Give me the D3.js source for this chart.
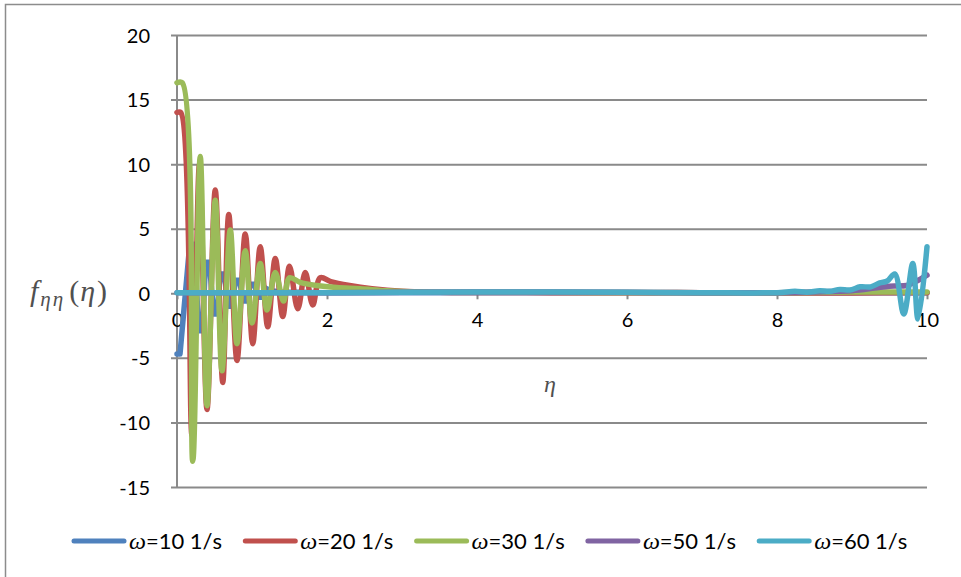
<!DOCTYPE html>
<html>
<head>
<meta charset="utf-8">
<script src="https://cdn.jsdelivr.net/npm/d3@7"></script>
<style>
  html, body { margin: 0; padding: 0; background: #ffffff; }
  svg { display: block; }
</style>
</head>
<body>
<svg id="chart" width="961" height="577"></svg>
<script>
// Axis ticks
const yTicks = [-15, -10, -5, 0, 5, 10, 15, 20];
const xTicks = [0, 2, 4, 6, 8, 10];

// Legend labels
const seriesNames = ["10 1/s", "20 1/s", "30 1/s", "50 1/s", "60 1/s"];

// ω = 10 1/s
const eta10 = [0, 0.04, 0.17, 0.23, 0.29, 0.34, 0.38, 0.43, 0.49, 0.53, 0.58, 0.63, 0.69, 0.73, 0.78, 0.83, 0.89, 0.93, 0.98, 1.03, 1.09, 1.13, 1.18, 1.25, 1.4, 2, 3, 4, 5, 6, 7, 8, 9, 10];
const f10 = [-4.7, -4.7, 3.8, 3.8, -2.9, -2.9, 2.4, 2.4, -1.6, -1.6, 1.5, 1.5, -1.0, -1.0, 1.0, 1.0, -0.6, -0.6, 0.7, 0.7, -0.3, -0.3, 0.4, 0.2, 0.1, 0.05, 0.05, 0.05, 0.05, 0.05, 0.05, 0.05, 0.05, 0.05];

// ω = 20 1/s
const eta20 = [0, 0.05, 0.2, 0.3, 0.4, 0.51, 0.61, 0.69, 0.8, 0.91, 1.01, 1.11, 1.21, 1.31, 1.41, 1.5, 1.61, 1.71, 1.81, 1.91, 2.05, 2.3, 2.6, 3.0, 3.5, 4, 5, 6, 7, 8, 9, 10];
const f20 = [14.0, 14.0, -11.0, 10.0, -9.0, 8.0, -6.9, 6.1, -5.2, 4.6, -3.9, 3.6, -2.6, 2.7, -1.8, 2.1, -1.2, 1.6, -0.9, 1.2, 0.9, 0.6, 0.35, 0.15, 0.08, 0.06, 0.05, 0.05, 0.05, 0.03, 0.03, 0.05];

// ω = 30 1/s
const eta30 = [0, 0.07, 0.21, 0.31, 0.4, 0.51, 0.6, 0.71, 0.8, 0.91, 1.0, 1.11, 1.2, 1.31, 1.42, 1.5, 1.64, 1.87, 2.13, 2.44, 2.8, 3.2, 4, 5, 6, 7, 8, 9, 9.5, 10];
const f30 = [16.3, 16.3, -13.0, 10.6, -8.7, 7.2, -6.0, 4.9, -3.9, 3.3, -2.3, 2.3, -1.3, 1.6, -0.6, 1.2, 0.85, 0.6, 0.45, 0.35, 0.2, 0.1, 0.08, 0.08, 0.06, 0.05, 0.05, 0.1, 0.1, 0.1];

// ω = 50 1/s
const eta50 = [0, 1, 2, 3, 4, 5, 6, 7, 8, 8.5, 9, 9.3, 9.5, 9.73, 9.85, 10];
const f50 = [0.05, 0.05, 0.05, 0.08, 0.1, 0.1, 0.08, 0.05, 0.05, 0.1, 0.2, 0.4, 0.55, 0.6, 0.9, 1.4];

// ω = 60 1/s
const eta60 = [0, 1, 2, 3, 4, 5, 6, 7, 8, 8.24, 8.4, 8.57, 8.7, 8.84, 8.97, 9.11, 9.25, 9.37, 9.47, 9.57, 9.69, 9.81, 9.88, 10];
const f60 = [0.05, 0.05, 0.05, 0.08, 0.1, 0.1, 0.08, 0.05, 0.05, 0.15, 0.08, 0.2, 0.15, 0.3, 0.25, 0.5, 0.5, 0.8, 0.95, 1.5, -1.6, 2.3, -2.0, 3.6];

const colors = ["#4F81BD", "#C0504D", "#9BBB59", "#8064A2", "#4BACC6"];

const series = [
  { eta: eta10, f: f10, curve: d3.curveLinear },
  { eta: eta20, f: f20, curve: d3.curveCatmullRom.alpha(0.5) },
  { eta: eta30, f: f30, curve: d3.curveCatmullRom.alpha(0.5) },
  { eta: eta50, f: f50, curve: d3.curveCatmullRom.alpha(0.5) },
  { eta: eta60, f: f60, curve: d3.curveCatmullRom.alpha(0.5) }
];

const svg = d3.select("#chart");
const labelFont = "Lato, 'Open Sans', sans-serif";
const mathFont = "'Liberation Serif', 'DejaVu Serif', serif";

// Outer chart frame
svg.append("rect")
  .attr("x", 5.5).attr("y", 4.5)
  .attr("width", 960).attr("height", 580)
  .attr("fill", "none")
  .attr("stroke", "#8c8c8c")
  .attr("stroke-width", 1.5);

const x = d3.scaleLinear().domain([0, 10]).range([177, 927]);
const y = d3.scaleLinear().domain([-15, 20]).range([487, 35]);

// Horizontal gridlines with small ticks to the left of the axis
const yAxis = d3.axisLeft(y)
  .tickValues(yTicks)
  .tickSize(-(927 - 177))
  .tickSizeOuter(0)
  .tickFormat(d => String(d));

const gy = svg.append("g")
  .attr("transform", "translate(177,0)")
  .call(yAxis);
gy.select(".domain").remove();
gy.selectAll(".tick line")
  .attr("x1", -6)
  .attr("stroke", "#8a8a8a")
  .attr("stroke-width", 2);
gy.selectAll(".tick text")
  .attr("x", -27)
  .attr("dy", "0.35em")
  .attr("fill", "#000")
  .style("font-family", labelFont)
  .style("font-size", "20px");

// Vertical axis line
svg.append("line")
  .attr("x1", 177).attr("x2", 177)
  .attr("y1", y(20)).attr("y2", y(-15))
  .attr("stroke", "#8a8a8a")
  .attr("stroke-width", 2);

// Horizontal axis through zero with ticks below
const xAxis = d3.axisBottom(x)
  .tickValues(xTicks)
  .tickSize(6)
  .tickSizeOuter(0)
  .tickFormat(d => String(d));
const gx = svg.append("g")
  .attr("transform", `translate(0,${y(0)})`)
  .call(xAxis);
gx.select(".domain").attr("stroke", "#8a8a8a").attr("stroke-width", 2);
gx.selectAll(".tick line").attr("stroke", "#8a8a8a").attr("stroke-width", 2);
gx.selectAll(".tick text")
  .attr("y", 27)
  .attr("dy", "0.35em")
  .attr("fill", "#000")
  .style("font-family", labelFont)
  .style("font-size", "20px");

// Data lines
const plot = svg.append("g");
series.forEach((s, i) => {
  const pts = s.eta.map((e, k) => [e, s.f[k]]);
  const line = d3.line()
    .x(d => x(d[0]))
    .y(d => y(d[1]))
    .curve(s.curve);
  plot.append("path")
    .datum(pts)
    .attr("d", line)
    .attr("fill", "none")
    .attr("stroke", colors[i])
    .attr("stroke-width", 5.5)
    .attr("stroke-linejoin", "round")
    .attr("stroke-linecap", "round");
});

// Axis titles
const yTitle = svg.append("text")
  .attr("x", 30).attr("y", 301)
  .attr("fill", "#505050")
  .style("font-family", mathFont)
  .style("font-style", "italic")
  .style("font-size", "30px");
yTitle.append("tspan").text("f");
yTitle.append("tspan").attr("dy", 5).attr("dx", 2).style("font-size", "21px").attr("letter-spacing", 2).text("ηη");
yTitle.append("tspan").attr("dy", -5).attr("dx", 4).style("font-style", "normal").text("(");
yTitle.append("tspan").attr("dx", 1).text("η");
yTitle.append("tspan").attr("dx", 2).style("font-style", "normal").text(")");

svg.append("text")
  .attr("x", 550).attr("y", 392)
  .attr("text-anchor", "middle")
  .attr("fill", "#505050")
  .style("font-family", mathFont)
  .style("font-style", "italic")
  .style("font-size", "24px")
  .text("η");

// Legend: five evenly spaced entries
const legendY = 541;
const legendX0 = 72;
const legendStep = 171.3;
seriesNames.forEach((name, i) => {
  const g = svg.append("g").attr("transform", `translate(${legendX0 + i * legendStep},0)`);
  g.append("line")
    .attr("x1", 2).attr("x2", 52)
    .attr("y1", legendY).attr("y2", legendY)
    .attr("stroke", colors[i])
    .attr("stroke-width", 5)
    .attr("stroke-linecap", "round");
  const t = g.append("text")
    .attr("x", 57).attr("y", legendY)
    .attr("dy", "0.35em")
    .attr("fill", "#000")
    .style("font-family", labelFont)
    .style("font-size", "22px");
  t.append("tspan").style("font-family", mathFont).style("font-style", "italic").style("font-size", "24px").text("ω");
  t.append("tspan").text("=" + name);
});
</script>
</body>
</html>
